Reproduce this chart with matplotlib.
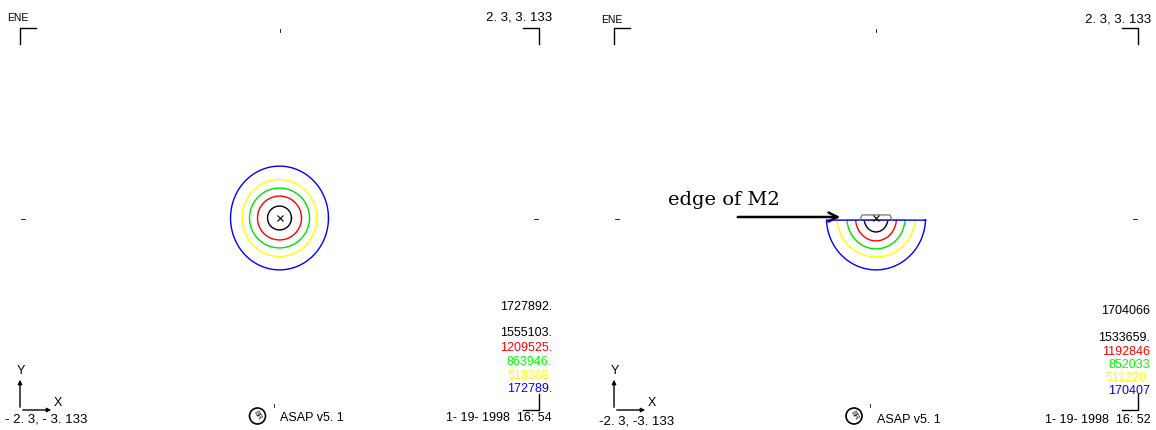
import numpy as np
import matplotlib
matplotlib.use('Agg')
import matplotlib.pyplot as plt
from matplotlib.patches import Circle

W, H = 1156, 430
SANS = ['Liberation Sans', 'DejaVu Sans']

# contour legend values (left: full beam, right: beam cut by edge of M2)
levels_left = ['1727892.', '1555103.', '1209525.', '863946.', '518368.', '172789.']
levels_right = ['1704066', '1533659.', '1192846', '852033', '511220.', '170407']
level_colors = ['black', 'black', 'red', '#00ff00', '#ffff00', 'blue']
ring_colors = ['black', 'red', '#00e000', '#ffff00', 'blue']

# ring half sizes in plot units (x, y), inner to outer
rings_left_x = [0.106, 0.195, 0.266, 0.332, 0.434]
rings_left_y = [0.196, 0.360, 0.491, 0.630, 0.851]
rings_right_x = [0.105, 0.180, 0.255, 0.342, 0.435]
rings_right_y = [0.229, 0.376, 0.507, 0.638, 0.851]
m2_cut = -0.035
m2_bump_x = [-0.14, -0.123, 0.123, 0.14]
m2_bump_y = [-0.035, 0.05, 0.05, -0.035]

fig = plt.figure(figsize=(W / 100, H / 100), dpi=100)

# overlay in pixel coords for the frame decorations and labels
ov = fig.add_axes([0, 0, 1, 1])
ov.set_xlim(0, W)
ov.set_ylim(H, 0)
ov.axis('off')

FS = 9


def data_axes(x0, y0, x1, y1):
    ax = fig.add_axes([x0 / W, 1 - y1 / H, (x1 - x0) / W, (y1 - y0) / H])
    ax.set_xlim(-2.3, 2.3)
    ax.set_ylim(-3.133, 3.133)
    ax.axis('off')
    return ax


def frame(x0, y0, x1, y1, arm=16):
    k = dict(color='black', lw=1.0)
    ov.plot([x0, x0, x0 + arm], [y0 + arm, y0, y0], **k)
    ov.plot([x1 - arm, x1, x1], [y0, y0, y0 + arm], **k)
    ov.plot([x1 - arm, x1, x1], [y1, y1, y1 - arm], **k)
    # xy axes symbol
    ov.annotate('', xy=(x0, y1 - 33), xytext=(x0, y1),
                arrowprops=dict(arrowstyle='-|>', lw=1.0, color='black', mutation_scale=6))
    ov.annotate('', xy=(x0 + 34, y1), xytext=(x0, y1),
                arrowprops=dict(arrowstyle='-|>', lw=1.0, color='black', mutation_scale=6))
    ov.text(x0 + 1, y1 - 39, 'Y', fontsize=FS, family=SANS, ha='center', va='center')
    ov.text(x0 + 38, y1 - 7, 'X', fontsize=FS, family=SANS, ha='center', va='center')
    cx, cy = (x0 + x1) / 2, (y0 + y1) / 2
    ov.plot([cx, cx], [y0 + 1, y0 + 4], color='black', lw=0.6)
    ov.plot([cx - 6, cx - 6], [y1 - 6, y1 - 3], color='black', lw=0.6)
    ov.plot([x0 + 1, x0 + 5], [cy, cy], color='black', lw=0.6)
    ov.plot([x1 - 5, x1 - 1], [cy, cy], color='black', lw=0.6)


def logo(x, y):
    ov.add_patch(Circle((x, y), 8, fill=False, lw=1.2, color='black'))
    ov.text(x, y, 'BR', fontsize=5, family=SANS, rotation=-60, ha='center', va='center')


def texts(x0, y0, x1, y1, date, lo, hi, asap, yoff):
    ov.text(x0 - 13, 18 + yoff, 'ENE', fontsize=7.5, family=SANS, va='center')
    ov.text(x1 + 13, 18 + yoff, hi, fontsize=FS + 0.5, family=SANS, ha='right', va='center')
    ov.text(x0 - 15, 420 + yoff, lo, fontsize=FS + 0.5, family=SANS, va='center')
    logo((x0 + x1) / 2 - 22, 416)
    ov.text((x0 + x1) / 2 + 1, 418 + yoff, asap, fontsize=FS, family=SANS, va='center')
    ov.text(x1 + 13, 418 + yoff, date, fontsize=FS, family=SANS, ha='right', va='center')


def legend(x, ys, labels):
    for yy, lab, c in zip(ys, labels, level_colors):
        ov.text(x, yy, lab, fontsize=FS, family=SANS, color=c, ha='right', va='center')


t = np.linspace(0, 2 * np.pi, 200)

# left panel: full beam
ax1 = data_axes(20, 27, 539, 409)
for rx, ry, c in zip(rings_left_x, rings_left_y, ring_colors):
    ax1.plot(rx * np.cos(t), ry * np.sin(t), color=c, lw=1.0)
ax1.plot([0], [0], marker='x', color='black', ms=4, mew=0.8)
frame(20, 28, 539, 410)
texts(20, 28, 539, 410, '1- 19- 1998  16: 54', '- 2. 3, - 3. 133', '2. 3, 3. 133', 'ASAP v5. 1', 0)
legend(552, [307, 333, 348, 362, 376, 389], levels_left)

# right panel: beam truncated by the edge of M2
ax2 = data_axes(614, 27, 1138, 409)
for rx, ry, c in zip(rings_right_x, rings_right_y, ring_colors):
    ax2.plot(rx * np.cos(t), np.minimum(ry * np.sin(t), m2_cut), color=c, lw=1.0)
ax2.plot(m2_bump_x, m2_bump_y, color='#808080', lw=1.0)
ax2.plot([0], [0], marker='x', color='black', ms=4, mew=0.8)
frame(614, 28, 1138, 410)
texts(614, 28, 1138, 410, '1- 19- 1998  16: 52', '-2. 3, -3. 133', '2. 3, 3. 133', 'ASAP v5. 1', 2)
legend(1150, [311, 338, 352, 365, 378, 391], levels_right)

ov.text(668, 200, 'edge of M2', fontsize=14, family='DejaVu Serif', va='center')
ov.annotate('', xy=(843, 217), xytext=(735, 217),
            arrowprops=dict(arrowstyle='->', lw=1.8, color='black', mutation_scale=16))

fig.savefig('out.png', dpi=100)
